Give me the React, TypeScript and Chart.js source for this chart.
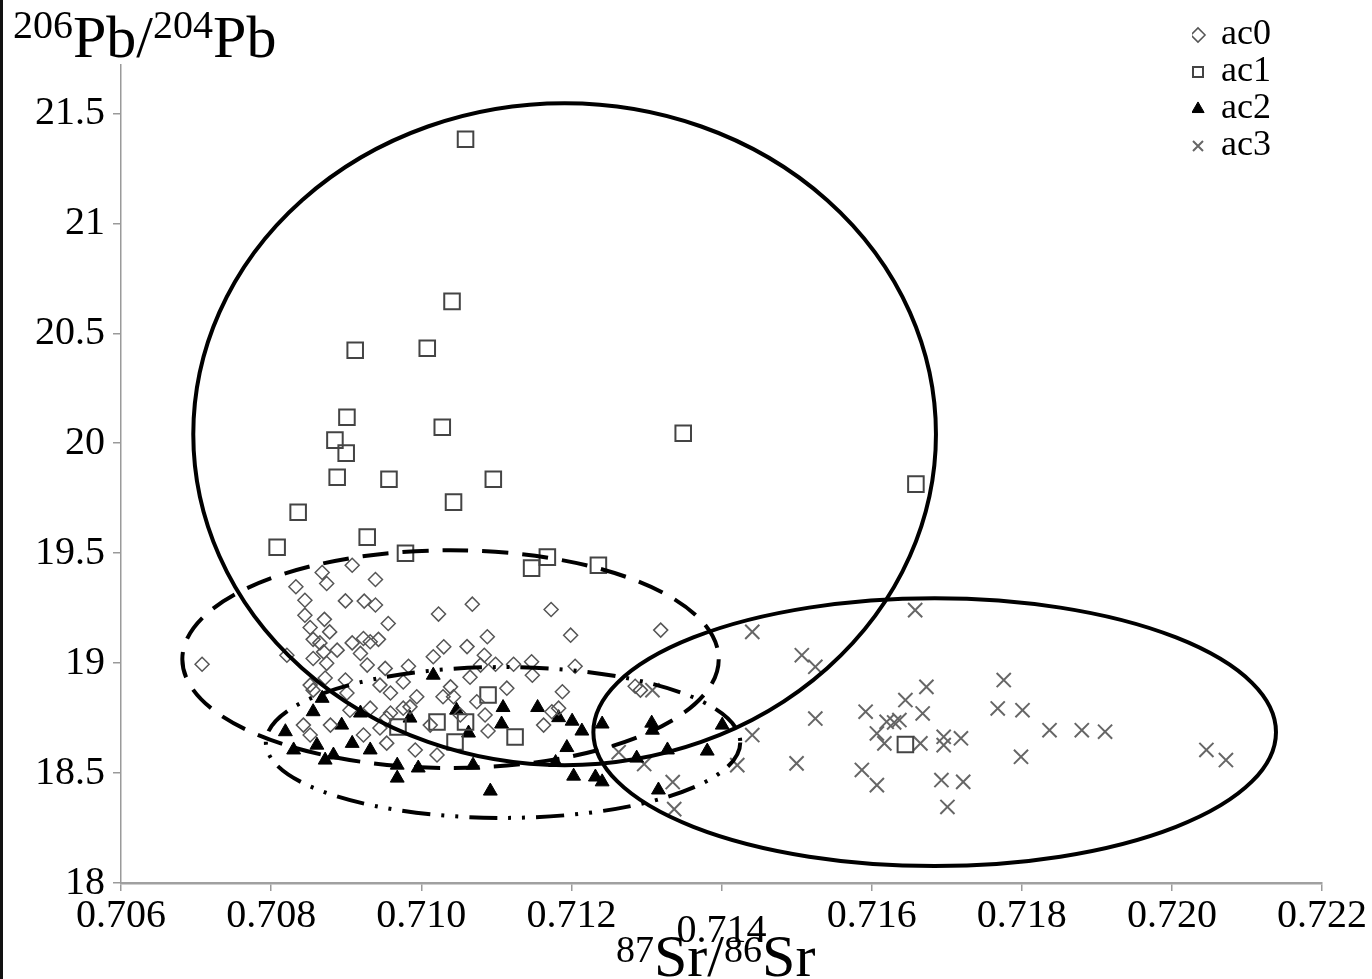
import React, { useEffect, useRef } from 'react';
import { Chart, registerables } from 'chart.js';

Chart.register(...registerables);

const SERIF = '"Liberation Serif", "Times New Roman", serif';

// ---- axis ticks ----
const X_TICKS = [0.706, 0.708, 0.71, 0.712, 0.714, 0.716, 0.718, 0.72, 0.722];
const X_TICK_LABELS = ['0.706', '0.708', '0.710', '0.712', '0.714', '0.716', '0.718', '0.720', '0.722'];
const Y_TICKS = [18, 18.5, 19, 19.5, 20, 20.5, 21, 21.5];
const Y_TICK_LABELS = ['18', '18.5', '19', '19.5', '20', '20.5', '21', '21.5'];

// ---- series: [87Sr/86Sr, 206Pb/204Pb] ----
const AC0: number[][] = [
  [0.70908, 19.445], [0.70868, 19.412], [0.70874, 19.362], [0.70939, 19.38], [0.70833, 19.347],
  [0.70845, 19.286], [0.70899, 19.283], [0.70924, 19.282], [0.70939, 19.264], [0.70845, 19.218],
  [0.70871, 19.199], [0.71023, 19.223], [0.70956, 19.18], [0.70852, 19.162], [0.70878, 19.142],
  [0.70856, 19.108], [0.70865, 19.092], [0.70908, 19.092], [0.70923, 19.112], [0.70932, 19.097],
  [0.70943, 19.108], [0.70888, 19.059], [0.70919, 19.044], [0.7087, 19.051], [0.7103, 19.074],
  [0.71016, 19.029], [0.70708, 18.995], [0.70856, 19.021], [0.70874, 18.999], [0.70928, 18.991],
  [0.70952, 18.976], [0.70983, 18.986], [0.70821, 19.036], [0.71068, 19.268], [0.71173, 19.244],
  [0.71199, 19.127], [0.71319, 19.15], [0.71088, 19.12], [0.71061, 19.075], [0.71084, 19.036],
  [0.71099, 18.995], [0.71123, 18.995], [0.71147, 19.006], [0.71205, 18.986], [0.71079, 18.991],
  [0.71148, 18.945], [0.71065, 18.936], [0.71114, 18.886], [0.71188, 18.87], [0.71085, 18.764],
  [0.71163, 18.718], [0.71174, 18.779], [0.71183, 18.795], [0.71089, 18.691], [0.71043, 18.847],
  [0.71292, 18.877], [0.71074, 18.824], [0.70852, 18.9], [0.70872, 18.932], [0.70945, 18.9],
  [0.70959, 18.864], [0.70976, 18.914], [0.70994, 18.847], [0.70976, 18.795], [0.70954, 18.75],
  [0.71039, 18.892], [0.71029, 18.847], [0.70843, 18.718], [0.70852, 18.673], [0.70879, 18.718],
  [0.70923, 18.673], [0.70954, 18.636], [0.70992, 18.605], [0.71021, 18.582], [0.70932, 18.795],
  [0.70945, 18.705], [0.70901, 18.864], [0.70959, 18.773], [0.70985, 18.801], [0.70856, 18.877],
  [0.71285, 18.895], [0.71052, 18.764], [0.71012, 18.718], [0.70905, 18.786], [0.70899, 18.923],
];

const AC1: number[][] = [
  [0.71059, 21.382], [0.71041, 20.645], [0.70912, 20.423], [0.71008, 20.432], [0.70901, 20.118],
  [0.70885, 20.014], [0.709, 19.955], [0.71028, 20.073], [0.71349, 20.045], [0.70888, 19.845],
  [0.70957, 19.836], [0.71096, 19.836], [0.71043, 19.732], [0.70836, 19.686], [0.70808, 19.527],
  [0.70928, 19.573], [0.70979, 19.5], [0.71168, 19.482], [0.71147, 19.432], [0.71236, 19.445],
  [0.71659, 19.814], [0.70969, 18.709], [0.71021, 18.732], [0.71059, 18.732], [0.71045, 18.641],
  [0.71089, 18.855], [0.71125, 18.664], [0.71645, 18.63],
];

const AC2: number[][] = [
  [0.70868, 18.84], [0.70856, 18.779], [0.70819, 18.688], [0.7083, 18.605], [0.70861, 18.627],
  [0.70883, 18.582], [0.70872, 18.559], [0.70894, 18.718], [0.70908, 18.635], [0.70932, 18.605],
  [0.70919, 18.773], [0.70968, 18.536], [0.70968, 18.477], [0.70996, 18.523], [0.70985, 18.75],
  [0.71047, 18.786], [0.71016, 18.945], [0.71109, 18.798], [0.71107, 18.723], [0.71063, 18.682],
  [0.71155, 18.798], [0.71183, 18.752], [0.71201, 18.736], [0.71214, 18.691], [0.71241, 18.723],
  [0.71194, 18.616], [0.71179, 18.548], [0.71203, 18.486], [0.71232, 18.482], [0.71241, 18.46],
  [0.71092, 18.418], [0.71069, 18.536], [0.71307, 18.727], [0.71287, 18.568], [0.71328, 18.605],
  [0.71381, 18.6], [0.71401, 18.718], [0.71316, 18.423], [0.71308, 18.695],
];

const AC3: number[][] = [
  [0.71658, 19.241], [0.71441, 19.142], [0.71507, 19.036], [0.71525, 18.983], [0.71673, 18.892],
  [0.71776, 18.923], [0.71645, 18.832], [0.71592, 18.779], [0.71668, 18.771], [0.71525, 18.748],
  [0.71768, 18.794], [0.71801, 18.786], [0.7162, 18.733], [0.71637, 18.741], [0.71607, 18.68],
  [0.71837, 18.695], [0.7188, 18.695], [0.71911, 18.688], [0.71441, 18.673], [0.71665, 18.635],
  [0.71696, 18.665], [0.71696, 18.627], [0.71719, 18.658], [0.72046, 18.605], [0.72072, 18.559],
  [0.71421, 18.536], [0.715, 18.544], [0.71587, 18.514], [0.71607, 18.445], [0.71799, 18.574],
  [0.71693, 18.468], [0.71722, 18.46], [0.71701, 18.346], [0.7163, 18.73], [0.71617, 18.635],
  [0.71308, 18.877], [0.71263, 18.595], [0.71297, 18.541], [0.71335, 18.459], [0.71337, 18.336],
];

// ---- group ellipses (data units): centre and semi-axes ----
const ELLIPSE_CX = [0.71191, 0.71684, 0.71039, 0.71109];
const ELLIPSE_CY = [20.041, 18.686, 19.018, 18.639];
const ELLIPSE_RX = [0.004947, 0.004547, 0.003573, 0.00316];
const ELLIPSE_RY = [1.505, 0.609, 0.495, 0.343];
const ELLIPSE_DASH: number[][] = [[], [], [26, 14], [28, 11, 3, 11, 3, 11]];

const toPts = (arr: number[][]) => arr.map(([x, y]) => ({ x, y }));

const ellipsePlugin = {
  id: 'groupEllipses',
  afterDatasetsDraw(chart: any) {
    const { ctx, scales } = chart;
    const xs = scales.x;
    const ys = scales.y;
    ctx.save();
    ctx.strokeStyle = '#000';
    ctx.lineWidth = 4;
    for (let i = 0; i < ELLIPSE_CX.length; i++) {
      const cx = xs.getPixelForValue(ELLIPSE_CX[i]);
      const cy = ys.getPixelForValue(ELLIPSE_CY[i]);
      const rx = Math.abs(xs.getPixelForValue(ELLIPSE_CX[i] + ELLIPSE_RX[i]) - cx);
      const ry = Math.abs(ys.getPixelForValue(ELLIPSE_CY[i] + ELLIPSE_RY[i]) - cy);
      ctx.setLineDash(ELLIPSE_DASH[i]);
      ctx.beginPath();
      ctx.ellipse(cx, cy, rx, ry, 0, 0, Math.PI * 2);
      ctx.stroke();
    }
    ctx.restore();
  },
};

const LEGEND_LEFT = 1192;
const LEGEND_TOP = 16;

const legendPlacer = {
  id: 'legendPlacer',
  beforeDraw(chart: any) {
    const lg = chart.legend;
    if (!lg) return;
    const w = lg.width;
    lg.left = LEGEND_LEFT;
    lg.right = LEGEND_LEFT + w;
    lg.top = LEGEND_TOP;
    lg.bottom = LEGEND_TOP + 400;
  },
};

export default function App() {
  const ref = useRef<HTMLCanvasElement>(null);

  useEffect(() => {
    if (!ref.current) return;
    const chart = new Chart(ref.current, {
      type: 'scatter',
      data: {
        datasets: [
          {
            label: 'ac0',
            data: toPts(AC0),
            pointStyle: 'rectRot',
            pointRadius: 7,
            borderColor: '#555',
            backgroundColor: 'rgba(255,255,255,0)',
            borderWidth: 1.5,
          },
          {
            label: 'ac1',
            data: toPts(AC1),
            pointStyle: 'rect',
            pointRadius: 11,
            borderColor: '#444',
            backgroundColor: 'rgba(255,255,255,0)',
            borderWidth: 2,
          },
          {
            label: 'ac2',
            data: toPts(AC2),
            pointStyle: 'triangle',
            pointRadius: 8,
            borderColor: '#000',
            backgroundColor: '#000',
            borderWidth: 1,
          },
          {
            label: 'ac3',
            data: toPts(AC3),
            pointStyle: 'crossRot',
            pointRadius: 10,
            borderColor: '#666',
            backgroundColor: '#666',
            borderWidth: 2,
          },
        ],
      },
      options: {
        responsive: false,
        animation: false,
        devicePixelRatio: 1,
        layout: { padding: { left: 0, top: 65, right: 50, bottom: 0 } },
        plugins: {
          legend: {
            position: 'chartArea' as any,
            align: 'start',
            labels: {
              usePointStyle: true,
              boxWidth: 10,
              boxHeight: 10,
              padding: 1,
              color: '#000',
              font: { family: SERIF, size: 36 },
            },
          },
          tooltip: { enabled: false },
        },
        scales: {
          x: {
            type: 'linear',
            min: 0.706,
            max: 0.722,
            afterBuildTicks: (s: any) => {
              s.ticks = X_TICKS.map((v) => ({ value: v }));
            },
            afterFit: (s: any) => {
              s.height = 96;
            },
            ticks: {
              autoSkip: false,
              maxRotation: 0,
              minRotation: 0,
              padding: 1,
              color: '#000',
              font: (c: any) => ({ family: SERIF, size: 40, lineHeight: c.index === 4 ? 1.95 : 1.2 }),
              callback: (_v: any, i: number) => X_TICK_LABELS[i],
            },
            grid: { display: true, drawOnChartArea: false, drawTicks: true, tickLength: 8, color: '#9a9a9a', lineWidth: 1.5 },
            border: { display: true, color: '#a0a0a0', width: 2.5 },
          },
          y: {
            type: 'linear',
            min: 18,
            max: 21.72,
            afterBuildTicks: (s: any) => {
              s.ticks = Y_TICKS.map((v) => ({ value: v }));
            },
            afterFit: (s: any) => {
              s.width = 121;
            },
            ticks: {
              autoSkip: false,
              padding: 8,
              color: '#000',
              font: { family: SERIF, size: 40 },
              callback: (_v: any, i: number) => Y_TICK_LABELS[i],
            },
            grid: { display: true, drawOnChartArea: false, drawTicks: true, tickLength: 8, color: '#9a9a9a', lineWidth: 1.5 },
            border: { display: true, color: '#9a9a9a', width: 1.5 },
          },
        },
      },
      plugins: [ellipsePlugin, legendPlacer],
    } as any);
    return () => chart.destroy();
  }, []);

  const supY: React.CSSProperties = { fontSize: 40, position: 'relative', top: -19 };
  const supX: React.CSSProperties = { fontSize: 38, position: 'relative', top: -14 };

  return (
    <div
      style={{
        position: 'absolute',
        left: 0,
        top: 0,
        width: 1372,
        height: 979,
        background: '#fff',
        overflow: 'hidden',
      }}
    >
      <canvas
        ref={ref}
        width={1372}
        height={979}
        style={{ position: 'absolute', left: 0, top: 0, width: 1372, height: 979 }}
      />
      <div style={{ position: 'absolute', left: 0, top: 0, width: 3, height: 979, background: '#111' }} />
      <div
        style={{
          position: 'absolute',
          left: 13,
          top: 7,
          fontFamily: SERIF,
          fontSize: 60,
          lineHeight: 1,
          color: '#000',
          whiteSpace: 'nowrap',
        }}
      >
        <span style={supY}>206</span>Pb/<span style={supY}>204</span>Pb
      </div>
      <div
        style={{
          position: 'absolute',
          left: 616,
          top: 926,
          fontFamily: SERIF,
          fontSize: 60,
          lineHeight: 1,
          color: '#000',
          whiteSpace: 'nowrap',
        }}
      >
        <span style={supX}>87</span>Sr/<span style={supX}>86</span>Sr
      </div>
    </div>
  );
}
